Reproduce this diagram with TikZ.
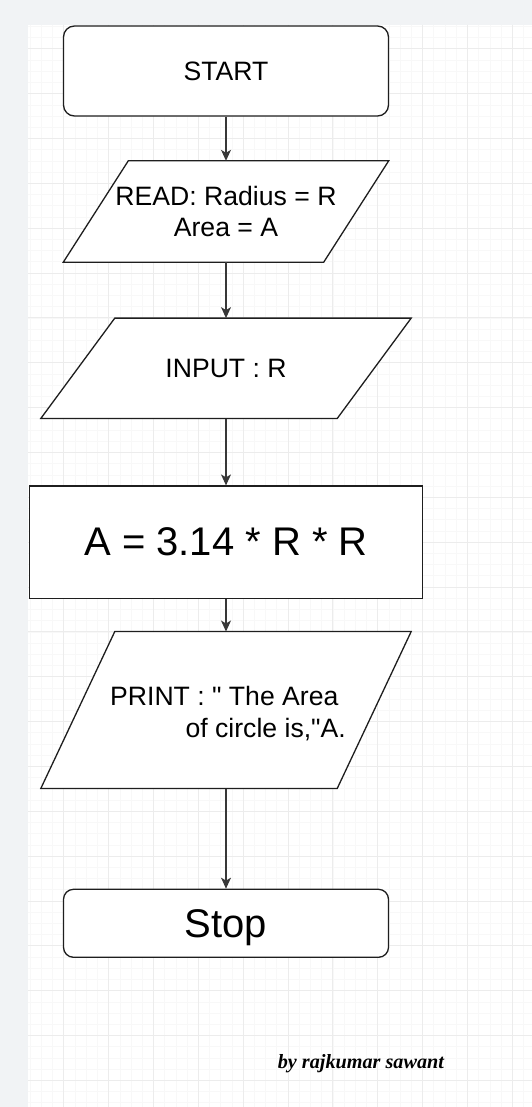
\documentclass[tikz,border=0pt]{standalone}
\usepackage{fontspec}
\setmainfont{Liberation Sans}[Ligatures=TeXOff]
\newfontfamily\sigfont{Liberation Serif}
\usetikzlibrary{arrows.meta,backgrounds}
\definecolor{cpage}{RGB}{241,243,245}
\definecolor{cminor}{RGB}{248,248,248}
\definecolor{cmajor}{RGB}{236,236,236}
\definecolor{cshape}{RGB}{30,30,30}
\definecolor{carrow}{RGB}{55,55,55}
\begin{document}
\begin{tikzpicture}[x=1pt,y=-1pt,
  gminor/.style={draw=cminor, line width=0.8pt},
  gmajor/.style={draw=cmajor, line width=1pt},
  normaltext/.style={font=\fontsize{26.6}{31.7}\selectfont},
  bigtext/.style={font=\fontsize{40}{48}\selectfont},
  term/.style={draw=cshape, line width=1.3pt, fill=white, rounded corners=11pt,
    minimum width=325pt, inner sep=0pt, normaltext},
  proc/.style={draw=cshape, line width=1.3pt, fill=white, inner sep=0pt, bigtext},
  io/.style={inner sep=0pt, normaltext},
  ioedge/.style={draw=cshape, line width=1.3pt, fill=white, line join=miter},
  txt/.style={inner sep=0pt, normaltext},
  flow/.style={draw=carrow, line width=1.1pt, -{Stealth[length=11pt,width=10pt,inset=3pt]}}
]
\useasboundingbox (0,0) rectangle (532,1107);
\begin{scope}[on background layer]
  \fill[cpage] (0,0) rectangle (532,1107);
  \fill[white] (28,25) rectangle (532,1107);
  \begin{scope}
    \clip (28,25) rectangle (532,1107);
    \foreach \i in {0,...,46} \draw[gminor] ({19+11.2125*\i},25) -- ({19+11.2125*\i},1107);
    \foreach \i in {0,...,99} \draw[gminor] (28,{4+11.2125*\i}) -- (532,{4+11.2125*\i});
    \foreach \i in {0,...,11} \draw[gmajor] ({19+44.85*\i},25) -- ({19+44.85*\i},1107);
    \foreach \i in {0,...,24} \draw[gmajor] (28,{4+44.85*\i}) -- (532,{4+44.85*\i});
  \end{scope}
\end{scope}

\node[term, minimum height=90pt] (start) at (226,71) {START};
\node[io, minimum width=325pt, minimum height=101pt, align=center] (read) at (226,211.5) {READ: Radius = R\\Area = A};
\node[io, minimum width=370pt, minimum height=100pt] (input) at (226,368.3) {INPUT : R};
\node[proc, minimum width=393pt, minimum height=112.3pt] (calc) at (226,542.2) {A = 3.14 * R * R};
\node[io, minimum width=370pt, minimum height=156.6pt] (print) at (226,710) {};
\node[txt, align=right] (printtxt) at (228,713.5) {PRINT : " The Area\hspace*{7.4pt}\\of circle is,"A.};
\node[term, bigtext, rounded corners=10pt, minimum height=68pt, text depth=0pt] (stop) at (226,923.3) {Stop};
\node[font=\sigfont\bfseries\itshape\fontsize{20.2}{24}\selectfont, anchor=base, inner sep=0pt] (sig) at (360.9,1068.3) {by rajkumar sawant};

\begin{scope}[on background layer]
  \draw[ioedge] ([xshift=65pt]read.north west) -- (read.north east) -- ([xshift=-65pt]read.south east) -- (read.south west) -- cycle;
  \draw[ioedge] ([xshift=74pt]input.north west) -- (input.north east) -- ([xshift=-74pt]input.south east) -- (input.south west) -- cycle;
  \draw[ioedge] ([xshift=74pt]print.north west) -- (print.north east) -- ([xshift=-74pt]print.south east) -- (print.south west) -- cycle;
\end{scope}

\draw[flow] (start.south) -- (read.north);
\draw[flow] (read.south) -- (input.north);
\draw[flow] (input.south) -- (calc.north);
\draw[flow] (calc.south) -- (print.north);
\draw[flow] (print.south) -- (stop.north);
\end{tikzpicture}
\end{document}
